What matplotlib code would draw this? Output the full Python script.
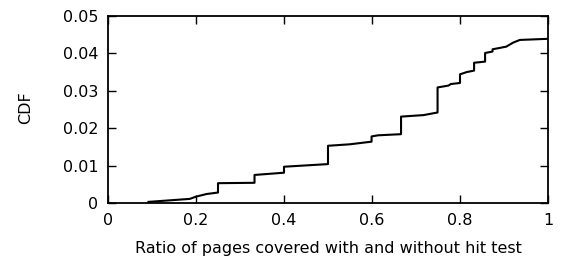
import matplotlib
matplotlib.use("Agg")
import matplotlib.pyplot as plt

plt.rcParams['font.family'] = ['DejaVu Sans']
plt.rcParams['font.size'] = 11.5

# CDF curve (duplicate x values are the vertical jumps)
ratio = [0.092, 0.186, 0.200, 0.224, 0.250, 0.250, 0.333, 0.333, 0.400, 0.400,
         0.500, 0.500, 0.550, 0.599, 0.599, 0.614, 0.666, 0.666, 0.717, 0.749,
         0.749, 0.774, 0.779, 0.800, 0.800, 0.815, 0.832, 0.832, 0.857, 0.857,
         0.874, 0.874, 0.905, 0.921, 0.936, 1.000]
cdf = [0.0003, 0.0011, 0.0017, 0.0024, 0.0028, 0.0053, 0.0054, 0.0075, 0.0081, 0.0097,
       0.0104, 0.0153, 0.0157, 0.0164, 0.0178, 0.0181, 0.0184, 0.0231, 0.0235, 0.0242,
       0.0309, 0.0314, 0.0318, 0.0321, 0.0344, 0.0350, 0.0354, 0.0375, 0.0378, 0.0401,
       0.0405, 0.0411, 0.0418, 0.0429, 0.0436, 0.0439]

xticks = [0, 0.2, 0.4, 0.6, 0.8, 1]
xticklabels = ['0', '0.2', '0.4', '0.6', '0.8', '1']
yticks = [0, 0.01, 0.02, 0.03, 0.04, 0.05]
yticklabels = ['0', '0.01', '0.02', '0.03', '0.04', '0.05']

fig = plt.figure(figsize=(5.68, 2.59), dpi=100)
ax = fig.add_axes([108/568, 1 - 203/259, 440/568, 187/259])

ax.plot(ratio, cdf, color='black', linewidth=1.5)

ax.set_xlim(0, 1)
ax.set_ylim(0, 0.05)
ax.set_xticks(xticks)
ax.set_xticklabels(xticklabels)
ax.set_yticks(yticks)
ax.set_yticklabels(yticklabels)
ax.tick_params(direction='in', top=True, right=True, length=6, width=1, pad=7)
for s in ax.spines.values():
    s.set_linewidth(1.3)

ax.set_xlabel('Ratio of pages covered with and without hit test')
ax.set_ylabel('CDF')
ax.xaxis.set_label_coords(0.5, -0.203)
ax.yaxis.set_label_coords(-0.170, 0.508)

fig.savefig('out.png', dpi=100)
